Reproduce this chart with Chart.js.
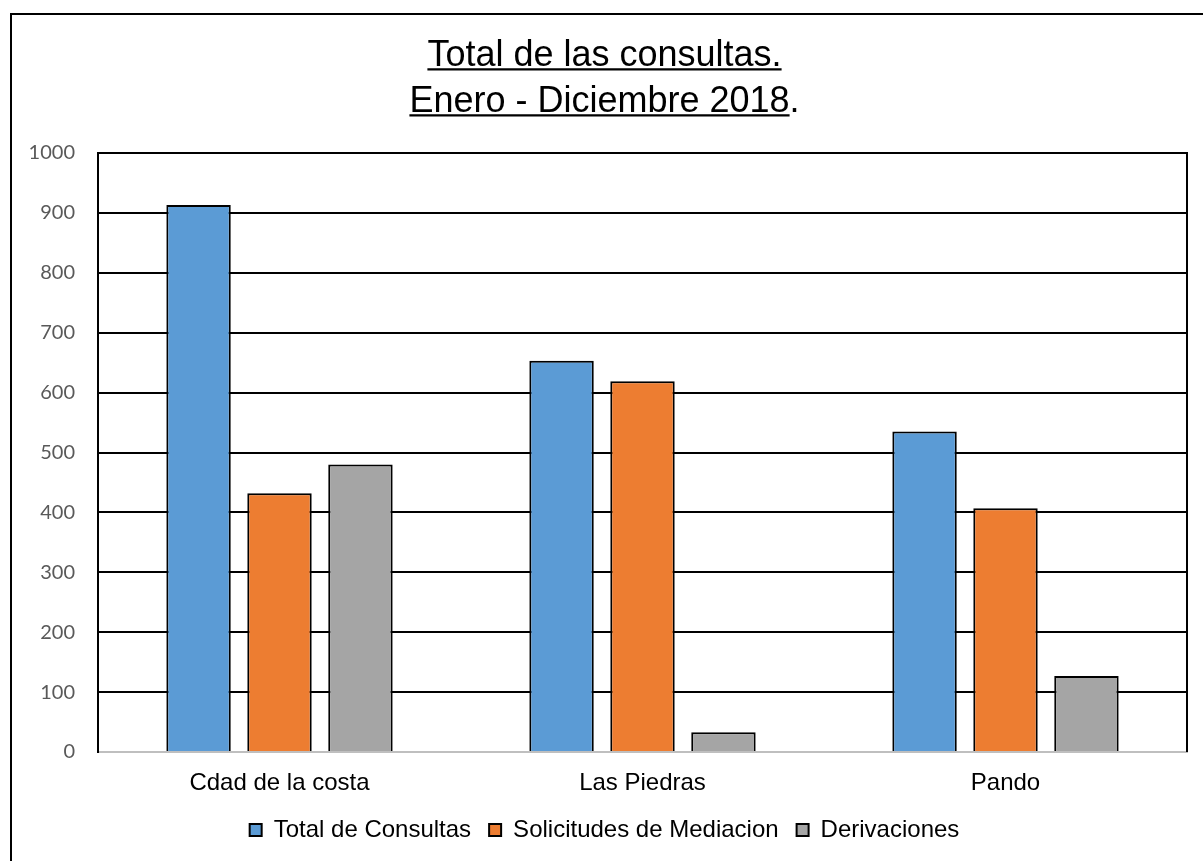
<!DOCTYPE html>
<html>
<head>
<meta charset="utf-8">
<script src="https://cdn.jsdelivr.net/npm/chart.js@4/dist/chart.umd.min.js"></script>
<style>
  html, body { margin: 0; padding: 0; background: #fff; overflow: hidden; }
  #wrap { position: relative; width: 1203px; height: 861px; }
</style>
</head>
<body>
<div id="wrap"><canvas id="c" width="1203" height="861"></canvas></div>
<script>
const titleLines = ['Total de las consultas.', 'Enero - Diciembre 2018.'];
const categories = ['Cdad de la costa', 'Las Piedras', 'Pando'];
const seriesNames = ['Total de Consultas', 'Solicitudes de Mediacion', 'Derivaciones'];
const totalConsultas = [913, 653, 535];
const solicitudesMediacion = [432, 619, 407];
const derivaciones = [480, 33, 127];
const yTicks = [0, 100, 200, 300, 400, 500, 600, 700, 800, 900, 1000];
const colors = ['#5B9BD5', '#ED7D31', '#A5A5A5'];

Chart.defaults.font.family = '"Liberation Sans", Arial, sans-serif';
Chart.defaults.color = '#000';

const framePlugin = {
  id: 'frame',
  beforeDraw(chart) {
    const ctx = chart.ctx;
    ctx.save();
    ctx.fillStyle = '#fff';
    ctx.fillRect(0, 0, chart.width, chart.height);
    ctx.strokeStyle = '#000';
    ctx.lineWidth = 2;
    ctx.strokeRect(11, 14, chart.width + 20, chart.height + 20);
    ctx.restore();
  },
  beforeDatasetsDraw(chart) {
    const ctx = chart.ctx, a = chart.chartArea;
    ctx.save();
    ctx.strokeStyle = '#000';
    ctx.lineWidth = 2;
    ctx.beginPath();
    ctx.moveTo(a.right, a.top - 1);
    ctx.lineTo(a.right, a.bottom);
    ctx.stroke();
    ctx.restore();
  },
  afterDraw(chart) {
    const tb = chart.titleBlock;
    if (!tb) return;
    const opts = chart.options.plugins.title;
    const font = Chart.helpers.toFont(opts.font);
    const pad = Chart.helpers.toPadding(opts.padding);
    const ctx = chart.ctx;
    ctx.save();
    ctx.font = font.string;
    ctx.textBaseline = 'middle';
    ctx.strokeStyle = '#000';
    ctx.lineWidth = 2.2;
    const cx = (tb.left + tb.right) / 2;
    titleLines.forEach((line, i) => {
      const cy = tb.top + pad.top + font.lineHeight / 2 + i * font.lineHeight;
      const full = ctx.measureText(line).width;
      const desc = ctx.measureText('T').actualBoundingBoxDescent;
      const underlined = i === 1 ? line.replace(/\.$/, '') : line;
      const w = ctx.measureText(underlined).width;
      const x0 = cx - full / 2;
      const y = cy + desc + 3.5;
      ctx.beginPath();
      ctx.moveTo(x0, y);
      ctx.lineTo(x0 + w, y);
      ctx.stroke();
    });
    ctx.restore();
  }
};

new Chart(document.getElementById('c'), {
  type: 'bar',
  data: {
    labels: categories,
    datasets: [
      { label: seriesNames[0], data: totalConsultas, backgroundColor: colors[0] },
      { label: seriesNames[1], data: solicitudesMediacion, backgroundColor: colors[1] },
      { label: seriesNames[2], data: derivaciones, backgroundColor: colors[2] }
    ].map(d => Object.assign(d, {
      borderColor: '#000', borderWidth: 2, borderSkipped: 'bottom',
      categoryPercentage: 0.669, barPercentage: 0.796
    }))
  },
  options: {
    responsive: false,
    animation: false,
    devicePixelRatio: 1,
    layout: { padding: { left: 22, right: 16, top: 0, bottom: 9 } },
    plugins: {
      title: {
        display: true,
        text: titleLines,
        font: { size: 36, lineHeight: 46 / 36, weight: 'normal' },
        color: '#000',
        padding: { top: 33, bottom: 28 }
      },
      legend: {
        position: 'bottom',
        labels: {
          font: { size: 24 },
          color: '#000',
          boxWidth: 12,
          boxHeight: 12,
          padding: 18
        }
      },
      tooltip: { enabled: false }
    },
    scales: {
      x: {
        grid: { display: false },
        border: { display: true, color: '#BFBFBF', width: 2 },
        ticks: { font: { size: 24 }, color: '#000', padding: 9 },
        afterFit(s) { s.height = 48; }
      },
      y: {
        min: 0, max: 1000,
        afterBuildTicks(s) { s.ticks = yTicks.map(v => ({ value: v })); },
        grid: {
          drawTicks: false,
          lineWidth: 2,
          color: c => (c.tick && c.tick.value === 0) ? '#BFBFBF' : '#000'
        },
        border: { display: true, color: '#000', width: 2 },
        ticks: {
          font: { family: 'Lato, "Open Sans", sans-serif', size: 20 },
          color: '#595959',
          padding: 23,
          callback: v => String(v)
        },
        afterFit(s) { s.width = 76; }
      }
    }
  },
  plugins: [framePlugin]
});
</script>
</body>
</html>
